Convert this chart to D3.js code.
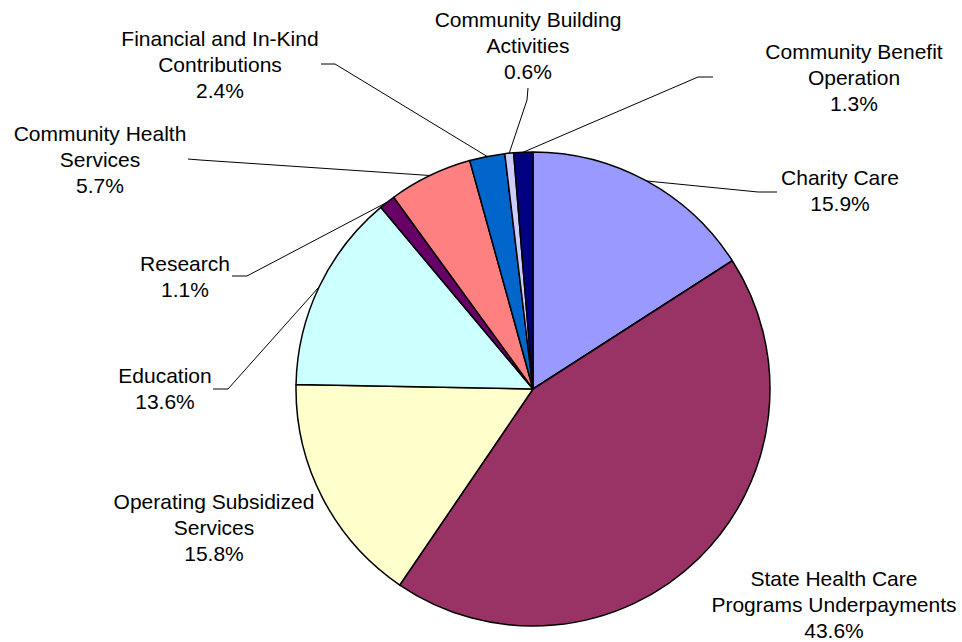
<!DOCTYPE html>
<html>
<head>
<meta charset="utf-8">
<script src="https://cdn.jsdelivr.net/npm/d3@7"></script>
<style>
  html, body { margin: 0; padding: 0; background: #fff; }
  svg { display: block; }
  text { font-family: "Liberation Sans", Arial, sans-serif; font-size: 21px; fill: #000; }
</style>
</head>
<body>
<svg id="chart" width="962" height="642"></svg>
<script>
// ---- data ----
const categories = [
  "Charity Care",
  "State Health Care Programs Underpayments",
  "Operating Subsidized Services",
  "Education",
  "Research",
  "Community Health Services",
  "Financial and In-Kind Contributions",
  "Community Building Activities",
  "Community Benefit Operation"
];
const values = [15.9, 43.6, 15.8, 13.6, 1.1, 5.7, 2.4, 0.6, 1.3];
const labelLines = [
  ["Charity Care"],
  ["State Health Care", "Programs Underpayments"],
  ["Operating Subsidized", "Services"],
  ["Education"],
  ["Research"],
  ["Community Health", "Services"],
  ["Financial and In-Kind", "Contributions"],
  ["Community Building", "Activities"],
  ["Community Benefit", "Operation"]
];
const colors = ["#9999FF", "#993366", "#FFFFCC", "#CCFFFF", "#660066", "#FF8080", "#0066CC", "#CCCCFF", "#000080"];

// ---- layout (label placement) ----
const labelPos = [
  {x: 840, y: 185, leader: [[777, 192], [758, 192]]},
  {x: 834, y: 586, leader: null},
  {x: 214, y: 509, leader: null},
  {x: 165, y: 383, leader: [[213, 389], [228, 389]]},
  {x: 185, y: 271, leader: [[232, 276], [247, 276]]},
  {x: 100, y: 141, leader: [[188, 159], [200, 160]]},
  {x: 220, y: 46, leader: [[321, 64], [335, 64]]},
  {x: 528, y: 27, leader: [[528, 88], [527, 100]]},
  {x: 854, y: 59, leader: [[713, 77], [698, 77]]}
];
const lineH = 26;
const cx = 533, cy = 389, r = 237;

const svg = d3.select("#chart");
const g = svg.append("g").attr("transform", `translate(${cx},${cy})`);

const total = d3.sum(values);
const pie = d3.pie().sort(null).value(d => d.v);
const arcs = pie(values.map((v, i) => ({v, i})));
const arc = d3.arc().innerRadius(0).outerRadius(r);
const edge = d3.arc().innerRadius(r).outerRadius(r);

g.selectAll("path.slice").data(arcs).join("path")
  .attr("class", "slice")
  .attr("d", arc)
  .attr("fill", d => colors[d.data.i])
  .attr("stroke", "#000")
  .attr("stroke-width", 1.5)
  .attr("stroke-linejoin", "round");

// leader lines
const lineGen = d3.line();
arcs.forEach(d => {
  const lp = labelPos[d.data.i];
  if (!lp.leader) return;
  const c = edge.centroid(d);
  const pts = lp.leader.concat([[c[0] + cx, c[1] + cy]]);
  svg.append("path")
    .attr("d", lineGen(pts))
    .attr("fill", "none")
    .attr("stroke", "#000")
    .attr("stroke-width", 1);
});

// labels
const fmt = d3.format(".1f");
arcs.forEach(d => {
  const i = d.data.i;
  const lp = labelPos[i];
  const lines = labelLines[i].concat([fmt(values[i] / total * 100) + "%"]);
  const t = svg.append("text")
    .attr("text-anchor", "middle")
    .attr("x", lp.x)
    .attr("y", lp.y);
  lines.forEach((s, k) => {
    t.append("tspan").attr("x", lp.x).attr("y", lp.y + k * lineH).text(s);
  });
});
</script>
</body>
</html>
